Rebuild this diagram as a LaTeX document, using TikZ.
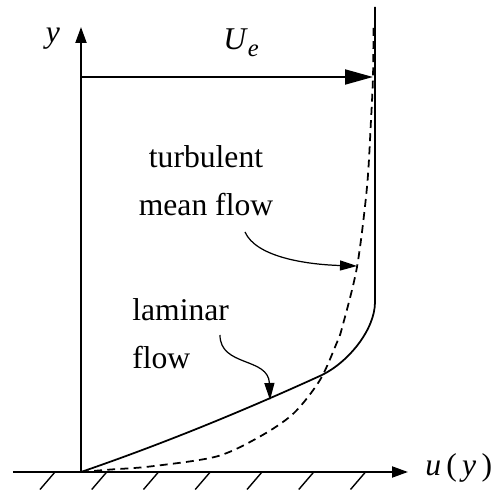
\documentclass[tikz,border=0pt]{standalone}
\usepackage{fontspec}
\setmainfont{Liberation Serif}
\usetikzlibrary{arrows.meta}
\tikzset{
  axis/.style={line width=1.1pt,-{Triangle[length=0.32cm,width=0.22cm]}},
  vel/.style={line width=1.1pt,-{Triangle[length=0.56cm,width=0.3cm]}},
  lam/.style={line width=1pt},
  turb/.style={line width=1pt,dash pattern=on 4.5pt off 3pt},
  guide/.style={line width=0.7pt,-{Triangle[length=0.34cm,width=0.2cm]}},
  hatch/.style={line width=0.8pt},
  lbl/.style={font=\fontsize{18}{27}\selectfont,inner sep=0pt}
}

\begin{document}
\begin{tikzpicture}
  \useasboundingbox (-1.62,-0.4) rectangle (8.28,9.44);
  % wall, axes and outer velocity
  \coordinate (O) at (0,0); \coordinate (ytip) at (0,8.9);
  \coordinate (gl) at (-1.36,0); \coordinate (gr) at (6.54,0);
  \coordinate (ue0) at (0,7.9); \coordinate (ue1) at (5.84,7.9);
  \draw[axis] (O) -- (ytip); \draw[axis] (gl) -- (gr);
  \draw[vel] (ue0) -- (ue1);
  \foreach \i in {0,...,6} \draw[hatch] (-0.52+1.035*\i,0) -- ++(-0.3,-0.35);
  \node[lbl] (ylab) at (-0.56,8.66) {\textit{y}};
  \node[lbl,anchor=base west] (ulab) at (6.88,-0.06) {\textit{u}\,(\,\textit{y}\,)};
  \node[lbl,anchor=base west] (uelab) at (2.84,8.44) {\textit{U}\raisebox{-0.22em}{\fontsize{14}{14}\selectfont\textit{e}}};
  % profiles
  \draw[lam] (O) .. controls (1.6,0.55) and (3.2,1.2) .. (4.82,1.94)
    .. controls (5.35,2.2) and (5.88,2.85) .. (5.88,3.4) -- (5.88,9.3);
  \draw[turb] plot[smooth] coordinates {(0,0) (0.6,0.05) (1.38,0.11) (2.71,0.31) (3.58,0.71) (4.25,1.17)
    (4.78,1.84) (5.11,2.57) (5.22,2.88) (5.52,4.1) (5.72,5.7) (5.80,7.04) (5.84,7.9) (5.85,8.88)};
  % labels
  \node[lbl,align=center] (turblab) at (2.5,5.83) {turbulent\\mean flow};
  \node[lbl,align=left,anchor=west] (lamlab) at (1.02,2.77) {laminar\\flow};
  \coordinate (t0) at (3.28,4.8); \coordinate (t1) at (5.52,4.12);
  \coordinate (l0) at (2.78,2.74); \coordinate (l1) at (3.78,1.44);
  \draw[guide] (t0) .. controls (3.5,4.3) and (4.5,4.15) .. (t1);
  \draw[guide] (l0) .. controls (2.78,2.1) and (3.75,2.3) .. (l1);
\end{tikzpicture}
\end{document}
